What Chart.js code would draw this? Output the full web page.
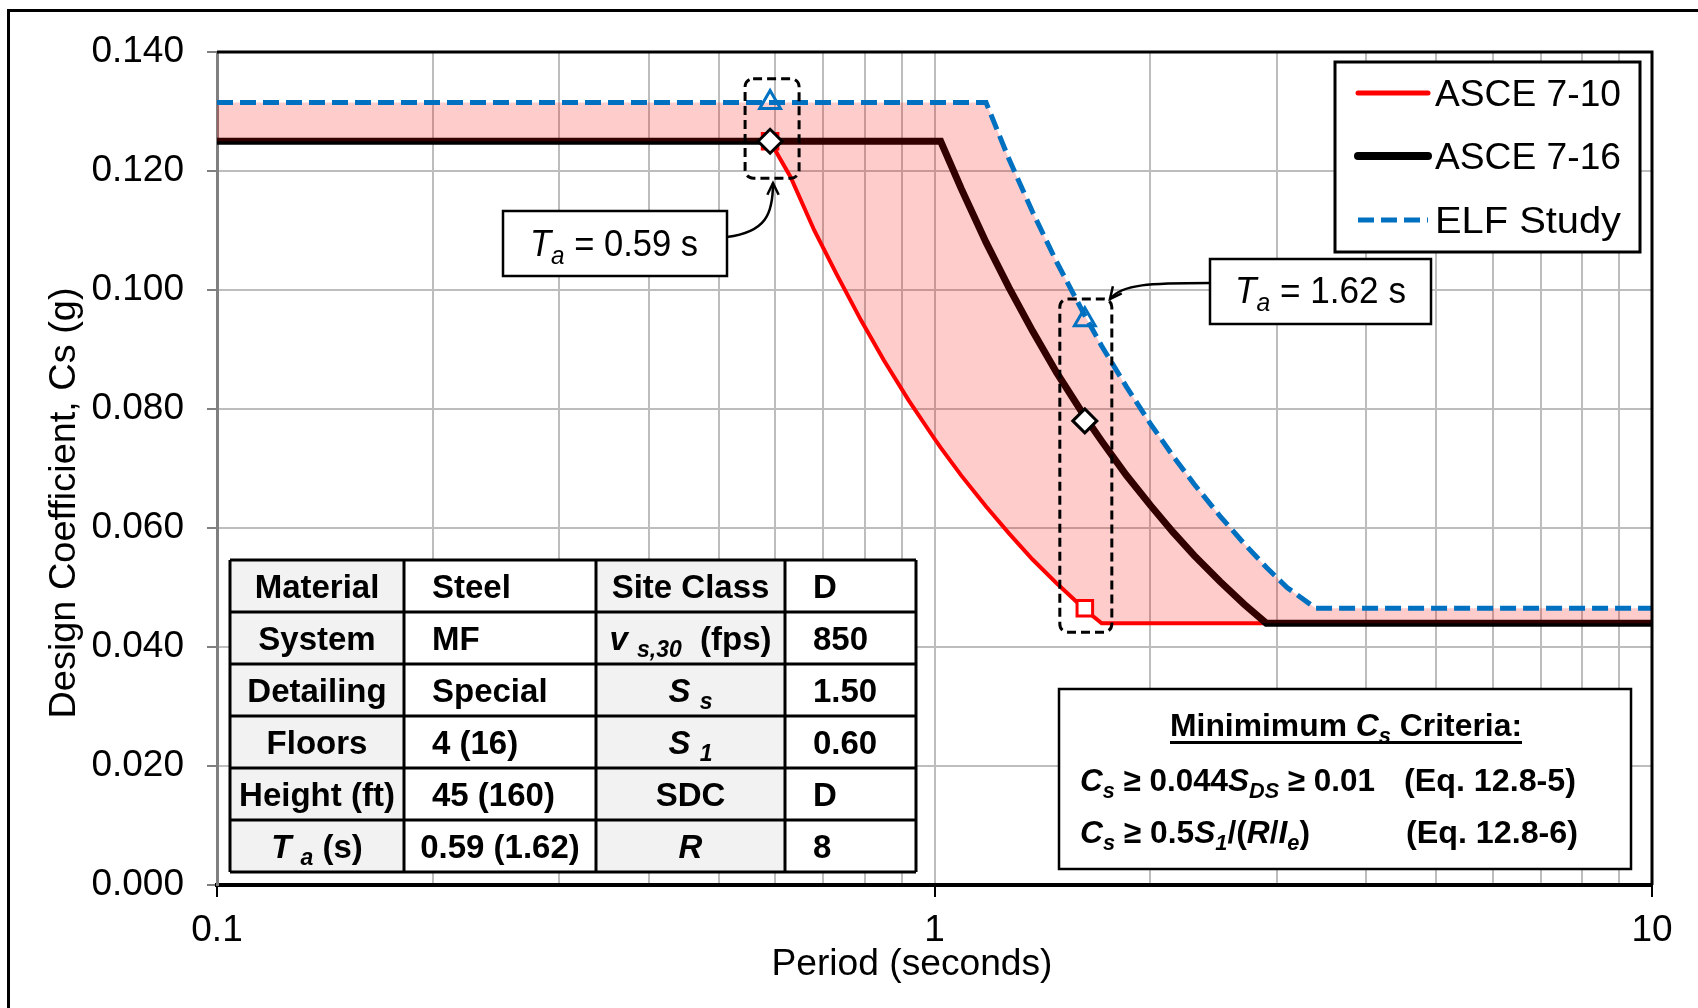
<!DOCTYPE html>
<html>
<head>
<meta charset="utf-8">
<script src="https://cdn.jsdelivr.net/npm/chart.js@4.4.1/dist/chart.umd.min.js"></script>
<style>
  html, body { margin: 0; padding: 0; background: #fff; }
</style>
</head>
<body>
<canvas id="csChart" width="1698" height="1008"></canvas>
<script>
// periods (s) shared by the three spectra
var periods = [0.1, 0.59, 0.63, 0.68, 0.73, 0.79, 0.85, 0.92, 1.0, 1.02, 1.09, 1.18, 1.27, 1.37,
  1.48, 1.62, 1.71, 1.85, 2.0, 2.15, 2.3, 2.5, 2.7, 2.9, 3.1, 3.4, 10];
var asce710 = [0.125, 0.125, 0.119, 0.110, 0.1027, 0.0949, 0.0882, 0.0815, 0.075, 0.0735, 0.0688, 0.0636, 0.0591, 0.0547,
  0.0507, 0.0463, 0.044, 0.044, 0.044, 0.044, 0.044, 0.044, 0.044, 0.044, 0.044, 0.044, 0.044];
var asce716 = [0.125, 0.125, 0.125, 0.125, 0.125, 0.125, 0.125, 0.125, 0.125, 0.125, 0.117, 0.108, 0.1004, 0.0931,
  0.0861, 0.0787, 0.0746, 0.0689, 0.0638, 0.0593, 0.0554, 0.051, 0.0472, 0.044, 0.044, 0.044, 0.044];
var elfStudy = [0.1315, 0.1315, 0.1315, 0.1315, 0.1315, 0.1315, 0.1315, 0.1315, 0.1315, 0.1315, 0.1315, 0.1315, 0.122, 0.1131,
  0.1047, 0.0957, 0.0906, 0.0838, 0.0775, 0.0721, 0.0674, 0.062, 0.0574, 0.0534, 0.050, 0.0465, 0.0465];

// markers at the two fundamental periods
var taPeriods = [0.59, 1.62];
var mark710 = [0.125, 0.0465];
var mark716 = [0.125, 0.078];
var markElf = [0.1315, 0.095];

var xTicks = [0.1, 0.2, 0.3, 0.4, 0.5, 0.6, 0.7, 0.8, 0.9, 1, 2, 3, 4, 5, 6, 7, 8, 9, 10];
var xLabels = { '0.1': '0.1', '1': '1', '10': '10' };

var tableRows = [
  ['Material', 'Steel', 'Site Class', 'D'],
  ['System', 'MF', '*v* _{*s,30*}  (fps)', '850'],
  ['Detailing', 'Special', '*S* _{*s*}', '1.50'],
  ['Floors', '4 (16)', '*S* _{*1*}', '0.60'],
  ['Height (ft)', '45 (160)', 'SDC', 'D'],
  ['*T* _{*a*} (s)', '0.59 (1.62)', '*R*', '8']
];
var legendItems = ['ASCE 7-10', 'ASCE 7-16', 'ELF Study'];

var FONT = '"Liberation Sans", Arial, sans-serif';

function pts(xs, ys) {
  return xs.map(function (x, i) { return { x: x, y: ys[i] }; });
}

// tiny rich text: *italic*, _{subscript}
function parseRich(s) {
  var runs = [], it = false, sub = false, buf = '';
  function push() { if (buf) runs.push({ t: buf, i: it, sub: sub }); buf = ''; }
  for (var k = 0; k < s.length; k++) {
    var c = s[k];
    if (c === '*') { push(); it = !it; }
    else if (c === '_' && s[k + 1] === '{') { push(); sub = true; k++; }
    else if (c === '}' && sub) { push(); sub = false; }
    else buf += c;
  }
  push();
  return runs;
}
function runFont(r, size, bold) {
  return (r.i ? 'italic ' : '') + (bold ? 'bold ' : '') + Math.round(r.sub ? size * 0.7 : size) + 'px ' + FONT;
}
function drawRich(ctx, s, x, y, o) {
  var runs = parseRich(s), w = 0;
  runs.forEach(function (r) { ctx.font = runFont(r, o.size, o.bold); r.w = ctx.measureText(r.t).width; w += r.w; });
  var sx = o.width ? o.width / w : 1;
  var tw = w * sx;
  var x0 = o.align === 'center' ? x - tw / 2 : (o.align === 'right' ? x - tw : x);
  ctx.save();
  ctx.translate(x0, y);
  ctx.scale(sx, 1);
  ctx.fillStyle = '#000';
  ctx.textAlign = 'left';
  ctx.textBaseline = 'alphabetic';
  var cx = 0;
  runs.forEach(function (r) {
    ctx.font = runFont(r, o.size, o.bold);
    ctx.fillText(r.t, cx, r.sub ? o.size * 0.22 : 0);
    cx += r.w;
  });
  ctx.restore();
  return { x: x0, w: tw };
}

function roundRect(ctx, x, y, w, h, r) {
  ctx.beginPath();
  ctx.moveTo(x + r, y);
  ctx.arcTo(x + w, y, x + w, y + h, r);
  ctx.arcTo(x + w, y + h, x, y + h, r);
  ctx.arcTo(x, y + h, x, y, r);
  ctx.arcTo(x, y, x + w, y, r);
  ctx.closePath();
}

function arrow(ctx, p0, c1, c2, p3) {
  ctx.save();
  ctx.strokeStyle = '#000';
  ctx.lineWidth = 2.5;
  ctx.setLineDash([]);
  ctx.beginPath();
  ctx.moveTo(p0[0], p0[1]);
  ctx.bezierCurveTo(c1[0], c1[1], c2[0], c2[1], p3[0], p3[1]);
  ctx.stroke();
  var a = Math.atan2(p3[1] - c2[1], p3[0] - c2[0]);
  ctx.beginPath();
  ctx.moveTo(p3[0] - 13 * Math.cos(a - 0.45), p3[1] - 13 * Math.sin(a - 0.45));
  ctx.lineTo(p3[0], p3[1]);
  ctx.lineTo(p3[0] - 13 * Math.cos(a + 0.45), p3[1] - 13 * Math.sin(a + 0.45));
  ctx.stroke();
  ctx.restore();
}

function box(ctx, x, y, w, h, lw) {
  ctx.fillStyle = '#fff';
  ctx.fillRect(x, y, w, h);
  ctx.strokeStyle = '#000';
  ctx.lineWidth = lw;
  ctx.setLineDash([]);
  ctx.strokeRect(x, y, w, h);
}

var decorations = {
  id: 'decorations',
  afterDraw: function (chart) {
    var ctx = chart.ctx, xs = chart.scales.x, ys = chart.scales.y, area = chart.chartArea;
    ctx.save();

    // plot frame top / right
    ctx.strokeStyle = '#000';
    ctx.lineWidth = 3;
    ctx.beginPath();
    ctx.moveTo(area.left, area.top);
    ctx.lineTo(area.right, area.top);
    ctx.lineTo(area.right, area.bottom);
    ctx.stroke();

    // outer frame
    ctx.lineWidth = 3;
    ctx.strokeRect(8.5, 10.5, 1760, 1060);

    // axis titles
    drawRich(ctx, 'Period (seconds)', 912, 975, { size: 37, align: 'center', width: 281 });
    ctx.save();
    ctx.translate(62, 503);
    ctx.rotate(-Math.PI / 2);
    drawRich(ctx, 'Design Coefficient, Cs (g)', 0, 13, { size: 37, align: 'center', width: 431 });
    ctx.restore();

    // dashed boxes round the markers
    ctx.setLineDash([9, 5]);
    ctx.lineWidth = 3;
    ctx.strokeStyle = '#000';
    var x1 = xs.getPixelForValue(taPeriods[0]), x2 = xs.getPixelForValue(taPeriods[1]);
    roundRect(ctx, x1 - 25, ys.getPixelForValue(0.1355), 54, ys.getPixelForValue(0.1188) - ys.getPixelForValue(0.1355), 8);
    ctx.stroke();
    roundRect(ctx, x2 - 25, ys.getPixelForValue(0.0985), 52, ys.getPixelForValue(0.0425) - ys.getPixelForValue(0.0985), 8);
    ctx.stroke();
    ctx.setLineDash([]);

    // callouts
    box(ctx, 503, 211, 224, 65, 2.5);
    drawRich(ctx, '*T*_{*a*} = 0.59 s', 530, 256, { size: 37, width: 168 });
    arrow(ctx, [727, 237], [766, 232], [773, 214], [773, 183]);
    box(ctx, 1210, 259, 221, 65, 2.5);
    drawRich(ctx, '*T*_{*a*} = 1.62 s', 1235, 303, { size: 37, width: 171 });
    arrow(ctx, [1210, 283], [1150, 283], [1122, 284], [1110, 299]);

    // legend
    box(ctx, 1335, 62, 305, 190, 3);
    var ds = chart.data.datasets;
    var lys = [93, 156, 220];
    [0, 1, 3].forEach(function (di, k) {
      ctx.strokeStyle = ds[di].borderColor;
      ctx.lineWidth = di === 1 ? 8 : 5;
      ctx.lineCap = di === 3 ? 'butt' : 'round';
      ctx.setLineDash(di === 3 ? [16, 7] : []);
      ctx.beginPath();
      ctx.moveTo(1358, lys[k]);
      ctx.lineTo(1428, lys[k]);
      ctx.stroke();
      drawRich(ctx, legendItems[k], 1435, lys[k] + 13, { size: 37, width: 186 });
    });
    ctx.setLineDash([]);
    ctx.lineCap = 'butt';

    // building table
    var colX = [230, 404, 596, 785, 916];
    var rowY = [560, 612, 664, 716, 768, 820, 872];
    for (var r = 0; r < tableRows.length; r++) {
      for (var c = 0; c < 4; c++) {
        ctx.fillStyle = (c % 2 === 0) ? '#f2f2f2' : '#ffffff';
        ctx.fillRect(colX[c], rowY[r], colX[c + 1] - colX[c], rowY[r + 1] - rowY[r]);
        var cy = (rowY[r] + rowY[r + 1]) / 2 + 12;
        var txt = tableRows[r][c];
        if (c % 2 === 0 || txt.length > 8) {
          drawRich(ctx, txt, (colX[c] + colX[c + 1]) / 2, cy, { size: 33, bold: true, align: 'center' });
        } else {
          drawRich(ctx, txt, colX[c] + 28, cy, { size: 33, bold: true });
        }
      }
    }
    ctx.strokeStyle = '#000';
    ctx.lineWidth = 3;
    ctx.beginPath();
    colX.forEach(function (x) { ctx.moveTo(x, rowY[0]); ctx.lineTo(x, rowY[6]); });
    rowY.forEach(function (y) { ctx.moveTo(colX[0], y); ctx.lineTo(colX[4], y); });
    ctx.stroke();

    // minimum Cs criteria
    box(ctx, 1059, 689, 572, 180, 2.5);
    var t = drawRich(ctx, 'Minimimum *C*_{*s*} Criteria:', 1346, 736, { size: 32, bold: true, align: 'center', width: 352 });
    ctx.fillStyle = '#000';
    ctx.fillRect(t.x, 741, t.w, 3);
    drawRich(ctx, '*C*_{*s*} \u2265 0.044*S*_{*DS*} \u2265 0.01', 1080, 791, { size: 32, bold: true, width: 295 });
    drawRich(ctx, '(Eq. 12.8-5)', 1404, 791, { size: 32, bold: true, width: 172 });
    drawRich(ctx, '*C*_{*s*} \u2265 0.5*S*_{*1*}/(*R*/*I*_{*e*})', 1080, 843, { size: 32, bold: true, width: 230 });
    drawRich(ctx, '(Eq. 12.8-6)', 1406, 843, { size: 32, bold: true, width: 172 });

    ctx.restore();
  }
};

var ctx = document.getElementById('csChart');
var csChart = new Chart(ctx, {
  type: 'line',
  data: {
    datasets: [{
      label: 'ASCE 7-10',
      data: pts(periods, asce710),
      borderColor: '#ff0000',
      borderWidth: 4,
      pointRadius: 0,
      order: 10
    }, {
      label: 'ASCE 7-16',
      data: pts(periods, asce716),
      borderColor: '#000000',
      borderWidth: 7,
      pointRadius: 0,
      order: 9
    }, {
      label: 'band',
      data: pts(periods, asce710),
      borderColor: 'rgba(0,0,0,0)',
      borderWidth: 0,
      backgroundColor: 'rgba(255,0,0,0.2)',
      fill: 3,
      pointRadius: 0,
      order: 8
    }, {
      label: 'ELF Study',
      data: pts(periods, elfStudy),
      borderColor: '#0070c0',
      borderWidth: 5,
      borderDash: [16, 7],
      pointRadius: 0,
      order: 7
    }, {
      label: 'ASCE 7-10 Ta',
      data: pts(taPeriods, mark710),
      showLine: false,
      pointStyle: 'rect',
      pointRadius: 11,
      pointBorderWidth: 3,
      pointBorderColor: '#ff0000',
      pointBackgroundColor: '#ffffff',
      order: 3
    }, {
      label: 'ASCE 7-16 Ta',
      data: pts(taPeriods, mark716),
      showLine: false,
      pointStyle: 'rectRot',
      pointRadius: 12,
      pointBorderWidth: 3,
      pointBorderColor: '#000000',
      pointBackgroundColor: '#ffffff',
      order: 2
    }, {
      label: 'ELF Ta',
      data: pts(taPeriods, markElf),
      showLine: false,
      pointStyle: 'triangle',
      pointRadius: 12,
      pointBorderWidth: 3,
      pointBorderColor: '#0070c0',
      pointBackgroundColor: 'rgba(0,0,0,0)',
      order: 1
    }]
  },
  options: {
    responsive: false,
    devicePixelRatio: 1,
    animation: false,
    events: [],
    layout: { padding: { left: 0, top: 52, right: 46, bottom: 0 } },
    plugins: {
      legend: { display: false },
      tooltip: { enabled: false }
    },
    scales: {
      x: {
        type: 'logarithmic',
        min: 0.1,
        max: 10,
        afterBuildTicks: function (scale) {
          scale.ticks = xTicks.map(function (v) { return { value: v }; });
        },
        afterFit: function (scale) { scale.height = 123; },
        border: { color: '#000000', width: 4 },
        grid: {
          color: '#bdbdbd',
          lineWidth: 2,
          tickLength: 12,
          tickWidth: 2,
          tickColor: function (c) { return xLabels[String(c.tick.value)] ? '#000000' : 'rgba(0,0,0,0)'; }
        },
        ticks: {
          autoSkip: false,
          maxRotation: 0,
          padding: 12,
          color: '#000',
          font: { family: FONT, size: 37 },
          callback: function (v) { return xLabels[String(v)] || ''; }
        }
      },
      y: {
        min: 0,
        max: 0.14,
        afterFit: function (scale) { scale.width = 217; },
        border: { color: '#808080', width: 3 },
        grid: { color: '#bdbdbd', lineWidth: 2, tickLength: 10, tickWidth: 2, tickColor: '#808080' },
        ticks: {
          stepSize: 0.02,
          padding: 23,
          color: '#000',
          font: { family: FONT, size: 37 },
          callback: function (v) { return v.toFixed(3); }
        }
      }
    }
  },
  plugins: [decorations]
});
</script>
</body>
</html>
